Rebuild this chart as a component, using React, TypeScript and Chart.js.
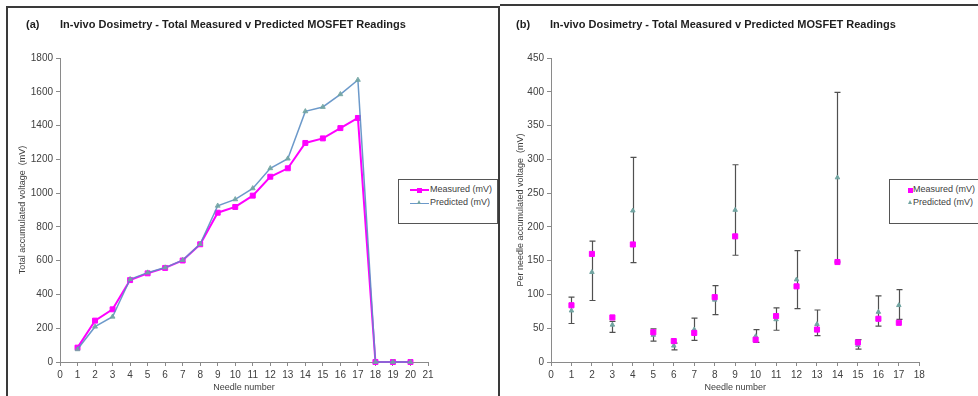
import React, { useEffect, useRef } from 'react';
import { Chart, registerables } from 'chart.js';

Chart.register(...registerables);

// ---- Panel (a): cumulative readings ----
const needlesA = [1, 2, 3, 4, 5, 6, 7, 8, 9, 10, 11, 12, 13, 14, 15, 16, 17, 18, 19, 20];
const measuredTotal = [85, 245, 312, 485, 525, 557, 601, 697, 884, 918, 985, 1097, 1147, 1297, 1324, 1385, 1445, 0, 0, 0];
const predictedTotal = [75, 209, 268, 490, 529, 559, 603, 698, 925, 963, 1028, 1147, 1204, 1484, 1510, 1585, 1670, 0, 0, 0];
const xTicksA = { min: 0, max: 21, step: 1 };
const yTicksA = { min: 0, max: 1800, step: 200 };

// ---- Panel (b): per-needle readings ----
const needlesB = [1, 2, 3, 4, 5, 6, 7, 8, 9, 10, 11, 12, 13, 14, 15, 16, 17];
const measuredPer = [84, 160, 66, 174, 44, 31, 43, 96, 186, 33, 68, 112, 48, 148, 29, 64, 58];
const predictedPer = [76, 133, 55, 224, 40, 24, 48, 92, 225, 38, 63, 122, 56, 273, 25, 74, 84];
const predictedHigh = [96, 179, 60, 303, 49, 28, 65, 113, 292, 48, 80, 165, 77, 399, 33, 98, 107];
const predictedLow = [57, 91, 44, 147, 31, 18, 32, 70, 158, 29, 47, 79, 39, 148, 19, 53, 63];
const xTicksB = { min: 0, max: 18, step: 1 };
const yTicksB = { min: 0, max: 450, step: 50 };

const titleText = 'In-vivo Dosimetry - Total Measured v Predicted MOSFET Readings';
const xTitle = 'Needle number';
const yTitleA = 'Total accumulated voltage  (mV)';
const yTitleB = 'Per needle accumulated voltage  (mV)';
const seriesNames = ['Measured (mV)', 'Predicted (mV)'];

const FONT = '"Liberation Sans", Arial, sans-serif';
const MAGENTA = '#FF00FF';
const BLUE_LINE = 'rgba(92,142,196,0.9)';
const TEAL = '#72A5A2';
const AXIS = '#8a8a8a';
const TXT = '#404040';

Chart.defaults.font.family = FONT;

function axisCommon(min: number, max: number, step: number, title: string, titlePad: any) {
  return {
    type: 'linear' as const,
    min,
    max,
    grid: { drawOnChartArea: false, drawTicks: true, tickLength: 4, color: AXIS },
    border: { display: true, color: AXIS, width: 1 },
    ticks: {
      stepSize: step,
      autoSkip: false,
      maxRotation: 0,
      color: TXT,
      font: { size: 10, family: FONT },
      padding: 3,
      callback: (v: any) => String(v),
    },
    title: { display: true, text: title, color: TXT, font: { size: 9, family: FONT }, padding: titlePad },
  };
}

const errorBarPlugin = {
  id: 'errorBars',
  beforeDatasetsDraw(chart: any) {
    const { ctx } = chart;
    const xs = chart.scales.x;
    const ys = chart.scales.y;
    ctx.save();
    ctx.strokeStyle = '#505050';
    ctx.lineWidth = 1.2;
    needlesB.forEach((n, i) => {
      const px = Math.round(xs.getPixelForValue(n)) + 0.5;
      const yt = ys.getPixelForValue(predictedHigh[i]);
      const yb = ys.getPixelForValue(predictedLow[i]);
      ctx.beginPath();
      ctx.moveTo(px, yt);
      ctx.lineTo(px, yb);
      ctx.moveTo(px - 3, yt);
      ctx.lineTo(px + 3, yt);
      ctx.moveTo(px - 3, yb);
      ctx.lineTo(px + 3, yb);
      ctx.stroke();
    });
    ctx.restore();
  },
};

function ChartA() {
  const ref = useRef<HTMLCanvasElement>(null);
  useEffect(() => {
    const chart = new Chart(ref.current as HTMLCanvasElement, {
      type: 'line',
      data: {
        datasets: [
          {
            label: seriesNames[0],
            data: needlesA.map((n, i) => ({ x: n, y: measuredTotal[i] })),
            borderColor: MAGENTA,
            backgroundColor: MAGENTA,
            borderWidth: 2,
            pointStyle: 'rect',
            pointRadius: 3.5,
            pointBorderWidth: 1,
            pointBackgroundColor: MAGENTA,
            pointBorderColor: MAGENTA,
            tension: 0,
            clip: false,
            order: 2,
          },
          {
            label: seriesNames[1],
            data: needlesA.map((n, i) => ({ x: n, y: predictedTotal[i] })),
            borderColor: BLUE_LINE,
            backgroundColor: TEAL,
            borderWidth: 1.5,
            pointStyle: 'triangle',
            pointRadius: 2.8,
            pointBorderWidth: 1,
            pointBackgroundColor: 'rgba(114,165,162,0.85)',
            pointBorderColor: 'rgba(114,165,162,0.85)',
            tension: 0,
            clip: false,
            order: 1,
          },
        ],
      },
      options: {
        responsive: false,
        animation: false,
        events: [],
        layout: { padding: { top: 50, right: 70, left: 0, bottom: 0 } },
        plugins: { legend: { display: false }, tooltip: { enabled: false }, title: { display: false } },
        scales: {
          x: {
            ...axisCommon(xTicksA.min, xTicksA.max, xTicksA.step, xTitle, { top: 0, bottom: 3 }),
            afterFit: (s: any) => { s.height = 34; },
          },
          y: {
            ...axisCommon(yTicksA.min, yTicksA.max, yTicksA.step, yTitleA, { top: 9, bottom: 0 }),
            afterFit: (s: any) => { s.width = 52; },
          },
        },
      } as any,
    });
    return () => chart.destroy();
  }, []);
  return <canvas ref={ref} width={490} height={388} style={{ position: 'absolute', left: 8, top: 8, width: 490, height: 388 }} />;
}

function ChartB() {
  const ref = useRef<HTMLCanvasElement>(null);
  useEffect(() => {
    const chart = new Chart(ref.current as HTMLCanvasElement, {
      type: 'scatter',
      data: {
        datasets: [
          {
            label: seriesNames[0],
            data: needlesB.map((n, i) => ({ x: n, y: measuredPer[i] })),
            backgroundColor: MAGENTA,
            borderColor: MAGENTA,
            pointStyle: 'rect',
            pointRadius: 3.6,
            pointBorderWidth: 1,
            showLine: false,
            clip: false,
            order: 1,
          },
          {
            label: seriesNames[1],
            data: needlesB.map((n, i) => ({ x: n, y: predictedPer[i] })),
            backgroundColor: TEAL,
            borderColor: TEAL,
            pointStyle: 'triangle',
            pointRadius: 2.6,
            pointBorderWidth: 1,
            showLine: false,
            clip: false,
            order: 2,
          },
        ],
      },
      options: {
        responsive: false,
        animation: false,
        events: [],
        layout: { padding: { top: 50, right: 58.7, left: 0, bottom: 0 } },
        plugins: { legend: { display: false }, tooltip: { enabled: false }, title: { display: false } },
        scales: {
          x: {
            ...axisCommon(xTicksB.min, xTicksB.max, xTicksB.step, xTitle, { top: 0, bottom: 3 }),
            afterFit: (s: any) => { s.height = 34; },
          },
          y: {
            ...axisCommon(yTicksB.min, yTicksB.max, yTicksB.step, yTitleB, { top: 14, bottom: 0 }),
            afterFit: (s: any) => { s.width = 50; },
          },
        },
      } as any,
      plugins: [errorBarPlugin],
    });
    return () => chart.destroy();
  }, []);
  return <canvas ref={ref} width={477} height={388} style={{ position: 'absolute', left: 501, top: 8, width: 477, height: 388 }} />;
}

const abs = (s: any) => ({ position: 'absolute' as const, ...s });

function Title({ left, tag }: { left: number; tag: string }) {
  const base = { fontFamily: FONT, fontWeight: 'bold' as const, fontSize: 11, lineHeight: '13px', color: '#1e1e1e', whiteSpace: 'nowrap' as const };
  return (
    <>
      <div style={abs({ ...base, left: left, top: 18 })}>{tag}</div>
      <div style={abs({ ...base, left: left + 34, top: 18 })}>{titleText}</div>
    </>
  );
}

const legendText = { fontFamily: FONT, fontSize: 9, lineHeight: '11px', color: TXT, whiteSpace: 'nowrap' as const };

function LegendA() {
  return (
    <div style={abs({ left: 398, top: 179, width: 100, height: 45, border: '1px solid #555', boxSizing: 'border-box', background: '#fff' })}>
      <div style={abs({ left: 11, top: 9, width: 19, height: 2, background: MAGENTA })} />
      <div style={abs({ left: 17.5, top: 7.5, width: 5, height: 5, background: MAGENTA })} />
      <div style={abs({ ...legendText, left: 31, top: 4 })}>{seriesNames[0]}</div>
      <div style={abs({ left: 11, top: 22.5, width: 19, height: 1.5, background: BLUE_LINE })} />
      <div style={abs({ left: 17.5, top: 20, width: 0, height: 0, borderLeft: '2.5px solid transparent', borderRight: '2.5px solid transparent', borderBottom: `4px solid ${TEAL}` })} />
      <div style={abs({ ...legendText, left: 31, top: 17 })}>{seriesNames[1]}</div>
    </div>
  );
}

function LegendB() {
  return (
    <div style={abs({ left: 889, top: 179, width: 95, height: 45, border: '1px solid #555', boxSizing: 'border-box', background: '#fff' })}>
      <div style={abs({ left: 18, top: 7.5, width: 5, height: 5, background: MAGENTA })} />
      <div style={abs({ ...legendText, left: 23, top: 4 })}>{seriesNames[0]}</div>
      <div style={abs({ left: 18, top: 20, width: 0, height: 0, borderLeft: '2.5px solid transparent', borderRight: '2.5px solid transparent', borderBottom: `4px solid ${TEAL}` })} />
      <div style={abs({ ...legendText, left: 23, top: 17 })}>{seriesNames[1]}</div>
    </div>
  );
}

export default function App() {
  return (
    <div style={{ position: 'fixed', left: 0, top: 0, width: 978, height: 396, background: '#fff', overflow: 'hidden' }}>
      {/* panel frames */}
      <div style={abs({ left: 6, top: 6, width: 494, height: 400, borderLeft: '2px solid #3a3a3a', borderTop: '2px solid #3a3a3a', borderRight: '2px solid #3a3a3a', boxSizing: 'border-box' })} />
      <div style={abs({ left: 500, top: 4, width: 480, height: 2, background: '#3a3a3a' })} />
      <ChartA />
      <ChartB />
      <Title left={26} tag="(a)" />
      <Title left={516} tag="(b)" />
      <LegendA />
      <LegendB />
    </div>
  );
}
